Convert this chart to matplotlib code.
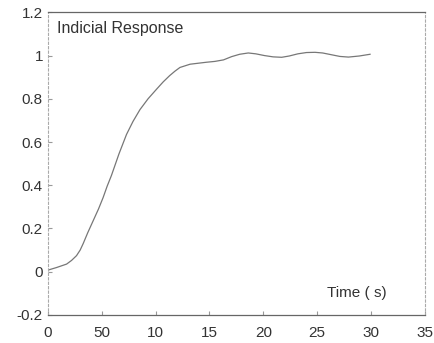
import matplotlib
matplotlib.use("Agg")
from matplotlib import pyplot as plt

plt.rcParams['font.family'] = ['Liberation Sans', 'DejaVu Sans']

# values
time_s = [0, 0.8, 1.74, 2.2, 2.66, 3.0, 3.28, 3.7, 4.2, 4.7, 5.13, 5.5, 5.9, 6.6, 7.3, 7.9, 8.55, 9.3, 10.1, 10.7,
          11.3, 11.8, 12.26, 13.2, 14.7, 15.5, 16.3, 17.05, 17.8, 18.6, 19.3, 20.1, 20.9, 21.7, 22.4, 23.2, 24.0,
          24.8, 25.5, 26.3, 27.1, 27.9, 28.9, 29.9]
response = [0.007, 0.019, 0.035, 0.052, 0.074, 0.1, 0.13, 0.18, 0.235, 0.29, 0.343, 0.395, 0.445, 0.545, 0.635,
            0.695, 0.75, 0.8, 0.845, 0.878, 0.907, 0.928, 0.945, 0.96, 0.969, 0.973, 0.98, 0.995, 1.006, 1.012, 1.008,
            1.0, 0.994, 0.992, 0.998, 1.008, 1.014, 1.015, 1.012, 1.004, 0.996, 0.993, 0.998, 1.006]

xticks = [0, 5, 10, 15, 20, 25, 30, 35]
xtick_labels = ["0", "50", "10", "15", "20", "25", "30", "35"]
yticks = [-0.2, 0, 0.2, 0.4, 0.6, 0.8, 1, 1.2]
ytick_labels = ["-0.2", "0", "0.2", "0.4", "0.6", "0.8", "1", "1.2"]

fig = plt.figure(figsize=(4.35, 3.43), dpi=100)
ax = fig.add_axes([0.110, 0.082, 0.867, 0.882])

ax.plot(time_s, response, color="#777777", linewidth=0.9)

ax.set_xlim(0, 35)
ax.set_ylim(-0.2, 1.2)
ax.set_xticks(xticks)
ax.set_xticklabels(xtick_labels)
ax.set_yticks(yticks)
ax.set_yticklabels(ytick_labels)
ax.tick_params(direction="in", length=3, labelsize=11, colors="#999999", labelcolor="#333333")
ax.tick_params(axis="x", pad=8)

for side in ["left", "right"]:
    ax.spines[side].set_color("#aaaaaa")
    ax.spines[side].set_linestyle((0, (2, 2)))
    ax.spines[side].set_linewidth(0.8)
for side in ["top", "bottom"]:
    ax.spines[side].set_color("#666666")
    ax.spines[side].set_linewidth(0.9)

ax.text(0.024, 0.972, "Indicial Response", transform=ax.transAxes, fontsize=11.5, color="#333333",
        ha="left", va="top")
ax.text(0.899, 0.05, "Time ( s)", transform=ax.transAxes, fontsize=11, color="#333333",
        ha="right", va="bottom")

fig.savefig("out.png", dpi=100)
